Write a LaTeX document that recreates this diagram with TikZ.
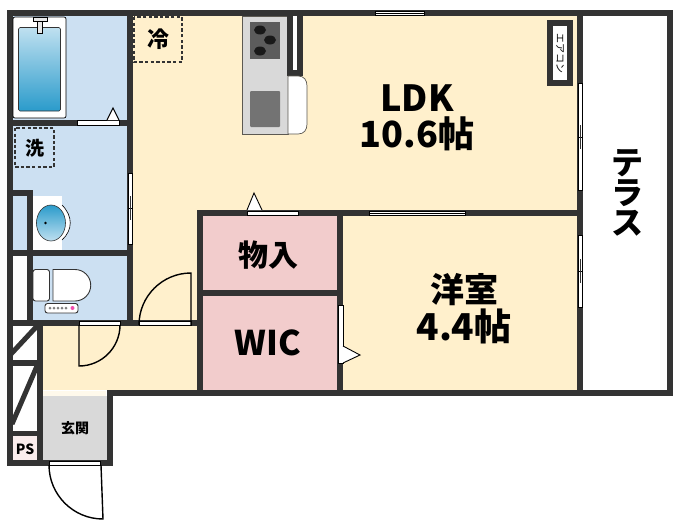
\documentclass[tikz,border=0pt]{standalone}
\usepackage{fontspec}
\setmainfont{Noto Sans CJK JP}
\definecolor{wallc}{HTML}{333333}
\definecolor{creamc}{HTML}{FFF0CC}
\definecolor{bluec}{HTML}{CCE0F2}
\definecolor{pinkc}{HTML}{F2CCCC}
\definecolor{grayc}{HTML}{D9D9D9}
\definecolor{waterlight}{HTML}{BFE0F0}
\definecolor{waterdeep}{HTML}{2A9BCB}
\newcommand{\lblsize}[1]{\fontsize{#1}{#1}\selectfont\bfseries}
\tikzset{
  wall/.style={fill=wallc, draw=none},
  sill/.style={fill=white, draw=black, line width=0.6pt},
  doorleaf/.style={draw=black, line width=1.4pt},
  mark line/.style={draw=black, fill=white, line width=0.9pt},
  dashbox/.style={draw=wallc, line width=1.1pt, dash pattern=on 3.4pt off 2.2pt},
  lbl/.style={inner sep=0pt, text=black}
}
\begin{document}
\begin{tikzpicture}[x=1pt, y=-1pt]
  \useasboundingbox (0,0) rectangle (680,530);

  % Les pieces
  \fill[creamc] (133,16) rectangle (577,210);
  \fill[creamc] (43,326) rectangle (198,390);
  \fill[creamc] (133,210) rectangle (198,326);
  \fill[creamc] (343,216) rectangle (577,390);
  \fill[bluec] (13,16) rectangle (127,120);
  \fill[bluec] (13,126) rectangle (127,250);
  \fill[bluec] (33,256) rectangle (127,320);
  \fill[pinkc] (203,216) rectangle (337,390);
  \fill[grayc] (43,396) rectangle (107,460);
  \fill[pinkc!35!white] (13,436) rectangle (37,460);

  % Les murs
  \fill[wall] (7,10) rectangle (673,16);
  \fill[wall] (667,10) rectangle (673,396);
  \fill[wall] (7,10) rectangle (13,466);
  \fill[wall] (577,16) rectangle (583,390);
  \fill[wall] (127,16) rectangle (133,326);
  \fill[wall] (13,120) rectangle (127,126);
  \fill[wall] (13,190) rectangle (33,196);
  \fill[wall] (27,190) rectangle (33,326);
  \fill[wall] (13,250) rectangle (127,256);
  \fill[wall] (7,320) rectangle (198,326);
  \fill[wall] (37,320) rectangle (43,466);
  \fill[wall] (13,360) rectangle (37,366);
  \fill[wall] (13,431) rectangle (37,436);
  \fill[wall] (7,460) rectangle (113,466);
  \fill[wall] (107,390) rectangle (113,466);
  \fill[wall] (107,390) rectangle (673,396);
  \fill[wall] (197,210) rectangle (203,396);
  \fill[wall] (197,210) rectangle (577,216);
  \fill[wall] (337,210) rectangle (343,396);
  \fill[wall] (203,290) rectangle (337,296);
  \draw[wallc, line width=5pt] (11,354) -- (38,325);
  \draw[wallc, line width=5pt] (12,424) -- (37,366);

  % Les portes
  \draw[sill] (77,120.5) rectangle (119,125);
  \draw[mark line] (107,120) -- (113,108) -- (119,120);
  \draw[sill] (79,321) rectangle (120,325);
  \draw[doorleaf] (79,325) -- (79,366) arc[start angle=90, end angle=0, radius=41];
  \draw[sill] (139,321) rectangle (191,325);
  \draw[doorleaf] (139,325) arc[start angle=180, end angle=270, radius=52] -- (191,325);
  \draw[sill] (247,211) rectangle (298,215);
  \draw[mark line] (247,210) -- (254,193) -- (262,210);
  \draw[sill] (338,305) rectangle (343,363);
  \draw[mark line] (343,346) -- (360,355) -- (343,363);
  \fill[creamc!40!white] (43,391) rectangle (106,396);
  \draw[sill] (49,461) rectangle (100.5,465);
  \draw[doorleaf] (49,465) arc[start angle=180, end angle=90, radius=54] -- (101,465);

  % Les fenetres
  \foreach \xa/\ya/\xb/\yb in {375/11/424/15, 369/211/465/215}{
    \draw[sill] (\xa,\ya) rectangle (\xb,\yb);
    \draw[line width=0.6pt] (\xa,{(\ya+\yb)/2}) -- (\xb,{(\ya+\yb)/2});
  }
  \foreach \xa/\ya/\xb/\yb/\ym in {128/173/132/244/208, 578/83/582/190/137, 578/235/582/307/271}{
    \draw[sill] (\xa,\ya) rectangle (\xb,\yb);
    \draw[line width=0.6pt] (\xa,\ym) -- (\xb,\ym);
    \draw[wallc, line width=0.8pt] ({(\xa+\xb)/2},\ym-12) -- ({(\xa+\xb)/2},\ym+12);
  }

  % La baignoire
  \draw[fill=white, rounded corners=2pt, line width=0.7pt] (13,17) rectangle (66,118);
  \draw[draw=wallc, rounded corners=1.5pt, top color=waterlight, bottom color=waterdeep, line width=0.7pt] (18.5,27.5) rectangle (60.5,111);
  \draw[fill=grayc!60!white, line width=0.5pt] (33,17) rectangle (47,21);
  \draw[fill=grayc!60!white, line width=0.5pt] (37,21) rectangle (42,33);

  % Le lavabo
  \fill[white] (33,196) rectangle (62,250);
  \draw[fill=white, line width=0.6pt] (62,205) .. controls (73,216) and (73,230) .. (62,240);
  \draw[draw=wallc, line width=0.6pt, top color=waterdeep, bottom color=waterlight] (51,223) ellipse[x radius=14.5, y radius=18];
  \fill[black] (45.5,223) circle[radius=1.3];

  % Les toilettes
  \draw[draw=wallc, fill=white, rounded corners=2.5pt, line width=0.9pt] (33,269.5) rectangle (49.5,301);
  \draw[draw=wallc, fill=white, line width=0.9pt] (53,269.5) -- (75,269.5) arc[start angle=-90, end angle=90, radius=15.75] -- (53,301) -- cycle;
  \draw[draw=wallc, fill=white, rounded corners=2.5pt, line width=0.9pt] (45,303.5) rectangle (78,313);
  \foreach \xp in {50,54,58,62,66}{
    \fill[gray] (\xp,308) circle[radius=1.5];
  }
  \fill[magenta!70!white] (72.5,308) circle[radius=2];

  % La cuisine
  \draw[draw=wallc!80!creamc, fill=grayc, line width=0.9pt] (242,16) rectangle (288,134);
  \fill[wallc!80!white] (250,22) rectangle (280,59);
  \foreach \xb/\yb in {260/30, 270/40, 260/51}{
    \fill[wallc!50!black] (\xb,\yb) ellipse[x radius=6, y radius=4.5];
  }
  \fill[gray!90!black, rounded corners=1pt] (250,91) rectangle (280,127);
  \fill[wall] (287,16) rectangle (303,76);
  \fill[white] (293,16) rectangle (297,70);
  \draw[draw=wallc!80!creamc, fill=white, line width=0.7pt] (288,76) -- (298,76) .. controls (304,76) and (307,80) .. (307,86) -- (307,124) .. controls (307,130) and (304,134) .. (298,134) -- (288,134) -- cycle;
  \fill[wall] (547,20) rectangle (573,86);
  \fill[white] (553,26) rectangle (567,80);

  % Les reperes
  \draw[dashbox, line width=1.4pt] (134,17) rectangle (182,62);
  \draw[dashbox] (15,128) rectangle (54,167);

  % Les textes
  \node[lbl, font=\lblsize{36}] (ldk) at (417,98) {LDK};
  \node[lbl, font=\lblsize{36}] (ldkarea) at (417,134) {10.6帖};
  \node[lbl, font=\lblsize{34}] (yoshitsu) at (464,290) {洋室};
  \node[lbl, font=\lblsize{37}] (yoshitsuarea) at (464,326) {4.4帖};
  \node[lbl, font=\lblsize{30}] (monoire) at (268,255) {物入};
  \node[lbl, font=\lblsize{34}] (wic) at (268,343) {WIC};
  \node[lbl, font=\lblsize{32}] (te) at (627,163) {テ};
  \node[lbl, font=\lblsize{32}] (ra) at (627,193) {ラ};
  \node[lbl, font=\lblsize{32}] (su) at (627,223) {ス};
  \node[lbl, font=\lblsize{22}] (rei) at (158,39) {冷};
  \node[lbl, font=\lblsize{19}] (sen) at (35,148) {洗};
  \node[lbl, font=\lblsize{14}] (genkan) at (75,428) {玄関};
  \node[lbl, font=\lblsize{14}] (ps) at (25,449) {PS};
  \node[lbl, font=\fontsize{10}{10}\selectfont, rotate=-90] (aircon) at (560,53) {エアコン};
\end{tikzpicture}
\end{document}
